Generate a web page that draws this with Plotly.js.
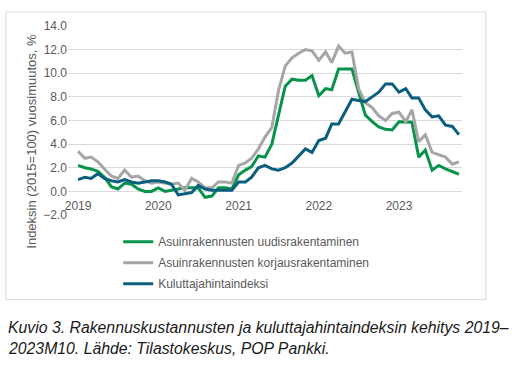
<!DOCTYPE html>
<html>
<head>
<meta charset="utf-8">
<script src="https://cdn.plot.ly/plotly-3.0.1.min.js"></script>
<style>html,body{margin:0;padding:0;background:#fff;}#chart{width:521px;height:367px;}</style>
</head>
<body>
<div id="chart"></div>
<script>
const months = [
  '2019-01-01','2019-02-01','2019-03-01','2019-04-01','2019-05-01','2019-06-01','2019-07-01','2019-08-01','2019-09-01','2019-10-01','2019-11-01','2019-12-01',
  '2020-01-01','2020-02-01','2020-03-01','2020-04-01','2020-05-01','2020-06-01','2020-07-01','2020-08-01','2020-09-01','2020-10-01','2020-11-01','2020-12-01',
  '2021-01-01','2021-02-01','2021-03-01','2021-04-01','2021-05-01','2021-06-01','2021-07-01','2021-08-01','2021-09-01','2021-10-01','2021-11-01','2021-12-01',
  '2022-01-01','2022-02-01','2022-03-01','2022-04-01','2022-05-01','2022-06-01','2022-07-01','2022-08-01','2022-09-01','2022-10-01','2022-11-01','2022-12-01',
  '2023-01-01','2023-02-01','2023-03-01','2023-04-01','2023-05-01','2023-06-01','2023-07-01','2023-08-01','2023-09-01','2023-10-01'
];
const uudis = [
  2.2, 2.0, 1.9, 1.7, 1.2, 0.4, 0.2, 0.7, 0.6, 0.2, 0.0, 0.0,
  0.3, 0.0, 0.1, 0.2, 0.3, 0.3, 0.3, -0.5, -0.4, 0.3, 0.3, 0.2,
  1.4, 1.8, 2.1, 3.0, 2.9, 4.0, 6.3, 8.9, 9.5, 9.4, 9.4, 9.8,
  8.1, 8.7, 8.6, 10.35, 10.35, 10.35, 8.4, 6.45, 5.9, 5.45, 5.25, 5.2,
  5.9, 5.9, 5.85, 2.9, 3.5, 1.8, 2.2, 1.9, 1.7, 1.45
];
const korjaus = [
  3.4, 2.8, 2.9, 2.5, 1.9, 1.3, 1.1, 1.8, 1.2, 1.3, 0.9, 0.7,
  0.8, 0.7, 0.6, 0.7, 0.1, 1.1, 0.8, 0.3, 0.3, 0.8, 0.8, 0.7,
  2.2, 2.4, 2.8, 3.6, 4.6, 5.4, 8.5, 10.6, 11.3, 11.7, 12.0, 11.9,
  11.1, 11.8, 10.9, 12.3, 11.7, 11.8, 8.7, 7.5, 7.1, 6.4, 6.0, 6.6,
  6.7, 5.9, 6.9, 4.2, 4.8, 3.3, 3.1, 2.9, 2.3, 2.5
];
const khi = [
  1.0, 1.2, 1.1, 1.5, 1.1, 0.9, 0.8, 1.0, 0.8, 0.7, 0.8, 0.9,
  0.9, 0.8, 0.6, -0.3, -0.2, -0.1, 0.5, 0.2, 0.1, 0.1, 0.1, 0.1,
  0.8, 0.8, 1.2, 2.0, 2.2, 1.9, 1.8, 2.0, 2.4, 3.0, 3.6, 3.3,
  4.3, 4.5, 5.7, 5.7, 6.7, 7.8, 7.7, 7.6, 8.0, 8.4, 9.1, 9.1,
  8.4, 8.7, 7.9, 7.9, 6.9, 6.3, 6.4, 5.6, 5.5, 4.8
];
const seriesNames = ['Asuinrakennusten uudisrakentaminen','Asuinrakennusten korjausrakentaminen','Kuluttajahintaindeksi'];
const yearTicks = ['2019-01-01','2020-01-01','2021-01-01','2022-01-01','2023-01-01'];
const yearLabels = ['2019','2020','2021','2022','2023'];

const colors = ['#07934a','#a6a6a6','#0b5f7e'];
const vals = [uudis, korjaus, khi];
const traces = vals.map((v,k)=>({
  x: months, y: v, type:'scatter', mode:'lines', name: seriesNames[k],
  line:{color:colors[k], width:3}, legendgroup:'g'+k
}));

const gray = '#595959';
const layout = {
  width:521, height:367,
  margin:{l:68, r:59, t:26, b:152.4},
  paper_bgcolor:'#fff', plot_bgcolor:'#fff',
  font:{family:'Liberation Sans, Arial, sans-serif', size:12, color:gray},
  xaxis:{type:'date', range:['2018-11-16','2023-10-15'], tickvals:yearTicks, ticktext:yearLabels,
    showgrid:false, zeroline:false, showline:false, ticks:'', anchor:'free', position:0.125,
    tickfont:{size:12, color:gray}, ticklabelstandoff:6},
  yaxis:{range:[-2,14], dtick:2, tickformat:'.1f', showgrid:true, gridcolor:'#d9d9d9', gridwidth:1,
    zeroline:false, showline:false, ticks:'', tickfont:{size:12, color:gray}, domain:[0,1]},
  showlegend:true,
  legend:{x:0.1274, xanchor:'left', y:-0.0647, yanchor:'top', bgcolor:'rgba(0,0,0,0)',
    font:{size:12, color:gray}, tracegroupgap:2, itemwidth:30},
  shapes:[{type:'rect', xref:'paper', yref:'paper', x0:-0.1574, x1:1.0609, y0:-0.4475, y1:1.0742,
    line:{color:'#d9d9d9', width:1}, fillcolor:'rgba(0,0,0,0)'}],
  annotations:[
    {text:'Indeksin (2015=100) vuosimuutos, %', xref:'paper', yref:'paper', x:-0.0914, y:0.393,
     textangle:-90, showarrow:false, font:{size:13, color:gray}, xanchor:'center', yanchor:'middle'},
    {text:'<i>Kuvio 3. Rakennuskustannusten ja kuluttajahintaindeksin kehitys 2019–</i>', xref:'paper', yref:'paper',
     x:-0.1574, y:-0.5965, xanchor:'left', yanchor:'middle', showarrow:false, font:{size:15.8, color:'#1a1a1a'}},
    {text:'<i>2023M10. Lähde: Tilastokeskus, POP Pankki.</i>', xref:'paper', yref:'paper',
     x:-0.1574, y:-0.7078, xanchor:'left', yanchor:'middle', showarrow:false, font:{size:15.8, color:'#1a1a1a'}}
  ]
};
Plotly.newPlot('chart', traces, layout, {displayModeBar:false, staticPlot:true});
</script>
</body>
</html>
